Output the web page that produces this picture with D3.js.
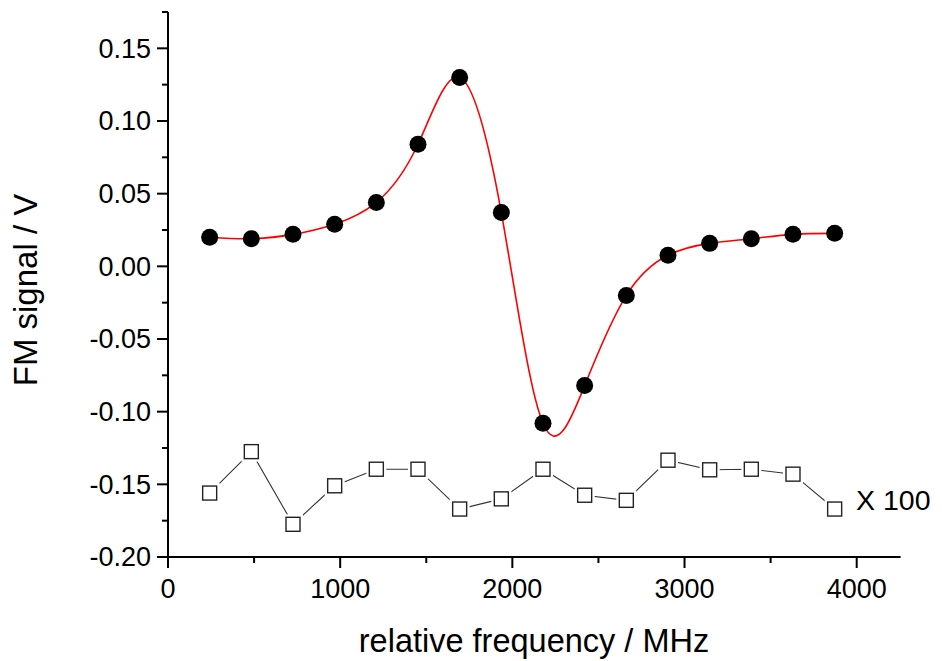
<!DOCTYPE html>
<html>
<head>
<meta charset="utf-8">
<script src="https://cdn.jsdelivr.net/npm/d3@7"></script>
<style>
  html, body { margin: 0; padding: 0; background: #fff; }
  svg text { font-family: "Liberation Sans", Arial, Helvetica, sans-serif; fill: #000; }
</style>
</head>
<body>
<svg id="chart" width="942" height="661"></svg>
<script>
// Data
const freq = [242, 484, 726, 968, 1210, 1452, 1694, 1936, 2178, 2420, 2662, 2904, 3146, 3388, 3630, 3872];
const fmSignal = [0.020, 0.019, 0.022, 0.029, 0.044, 0.084, 0.130, 0.037, -0.108, -0.082, -0.020, 0.0076, 0.0158, 0.019, 0.022, 0.0227];
const residual = [-0.156, -0.1275, -0.1775, -0.151, -0.1396, -0.1396, -0.167, -0.160, -0.1396, -0.1575, -0.161, -0.1334, -0.140, -0.1396, -0.143, -0.167];
const xTicks = [0, 1000, 2000, 3000, 4000];
const yTicks = [-0.20, -0.15, -0.10, -0.05, 0.00, 0.05, 0.10, 0.15];
const xLabel = "relative frequency / MHz";
const yLabel = "FM signal / V";
const residualNote = "X 100";

const svg = d3.select("#chart");
const x = d3.scaleLinear().domain([0, 4255]).range([168, 900.6]);
const y = d3.scaleLinear().domain([-0.2, 0.175]).range([557, 12]);

// minor ticks
const xMinor = d3.range(500, 4255, 1000);
const yMinor = d3.range(-0.175, 0.176, 0.05);

const g = svg.append("g");

// Axes lines
g.append("line").attr("x1", x(0)).attr("x2", x(4255)).attr("y1", y(-0.2)).attr("y2", y(-0.2))
  .attr("stroke", "#000").attr("stroke-width", 2);
g.append("line").attr("x1", x(0)).attr("x2", x(0)).attr("y1", y(-0.2)).attr("y2", y(0.175))
  .attr("stroke", "#000").attr("stroke-width", 2);

// x ticks
g.selectAll(".xt").data(xTicks).enter().append("line")
  .attr("x1", d => x(d)).attr("x2", d => x(d)).attr("y1", y(-0.2)).attr("y2", y(-0.2) + 11)
  .attr("stroke", "#000").attr("stroke-width", 2);
g.selectAll(".xm").data(xMinor).enter().append("line")
  .attr("x1", d => x(d)).attr("x2", d => x(d)).attr("y1", y(-0.2)).attr("y2", y(-0.2) + 6)
  .attr("stroke", "#000").attr("stroke-width", 2);
g.selectAll(".xl").data(xTicks).enter().append("text")
  .attr("x", d => x(d)).attr("y", 598).attr("text-anchor", "middle")
  .attr("font-size", 27).text(d => d);

// y ticks
g.selectAll(".yt").data(yTicks).enter().append("line")
  .attr("x1", x(0) - 11).attr("x2", x(0)).attr("y1", d => y(d)).attr("y2", d => y(d))
  .attr("stroke", "#000").attr("stroke-width", 2);
g.selectAll(".ym").data(yMinor).enter().append("line")
  .attr("x1", x(0) - 6).attr("x2", x(0)).attr("y1", d => y(d)).attr("y2", d => y(d))
  .attr("stroke", "#000").attr("stroke-width", 2);
g.selectAll(".yl").data(yTicks).enter().append("text")
  .attr("x", 151).attr("y", d => y(d)).attr("dy", "0.35em").attr("text-anchor", "end")
  .attr("font-size", 27).text(d => d3.format(".2f")(d).replace("−", "-"));

// Axis titles
g.append("text").attr("x", 534).attr("y", 652).attr("text-anchor", "middle")
  .attr("font-size", 32.5).text(xLabel);
g.append("text").attr("transform", "translate(37,290) rotate(-90)").attr("text-anchor", "middle")
  .attr("font-size", 33).text(yLabel);

// Residual series (x100)
const resPts = freq.map((f, i) => [f, residual[i]]);
g.append("path").datum(resPts)
  .attr("d", d3.line().x(d => x(d[0])).y(d => y(d[1])))
  .attr("fill", "none").attr("stroke", "#333").attr("stroke-width", 1.1);
g.selectAll(".rw").data(resPts).enter().append("rect")
  .attr("x", d => x(d[0]) - 10).attr("y", d => y(d[1]) - 10).attr("width", 20).attr("height", 20)
  .attr("fill", "#fff");
g.selectAll(".rs").data(resPts).enter().append("rect")
  .attr("x", d => x(d[0]) - 7).attr("y", d => y(d[1]) - 7).attr("width", 14).attr("height", 14)
  .attr("fill", "#fff").attr("stroke", "#222").attr("stroke-width", 1.4);
g.append("text").attr("x", 856).attr("y", 510).attr("font-size", 28.5).text(residualNote);

// FM signal fit curve and points
const fmPts = freq.map((f, i) => [f, fmSignal[i]]);
g.append("path").datum(fmPts)
  .attr("d", d3.line().curve(d3.curveNatural).x(d => x(d[0])).y(d => y(d[1])))
  .attr("fill", "none").attr("stroke", "#ff0000").attr("stroke-width", 1.6);
g.selectAll(".fp").data(fmPts).enter().append("circle")
  .attr("cx", d => x(d[0])).attr("cy", d => y(d[1])).attr("r", 8.5)
  .attr("fill", "#000");
</script>
</body>
</html>
